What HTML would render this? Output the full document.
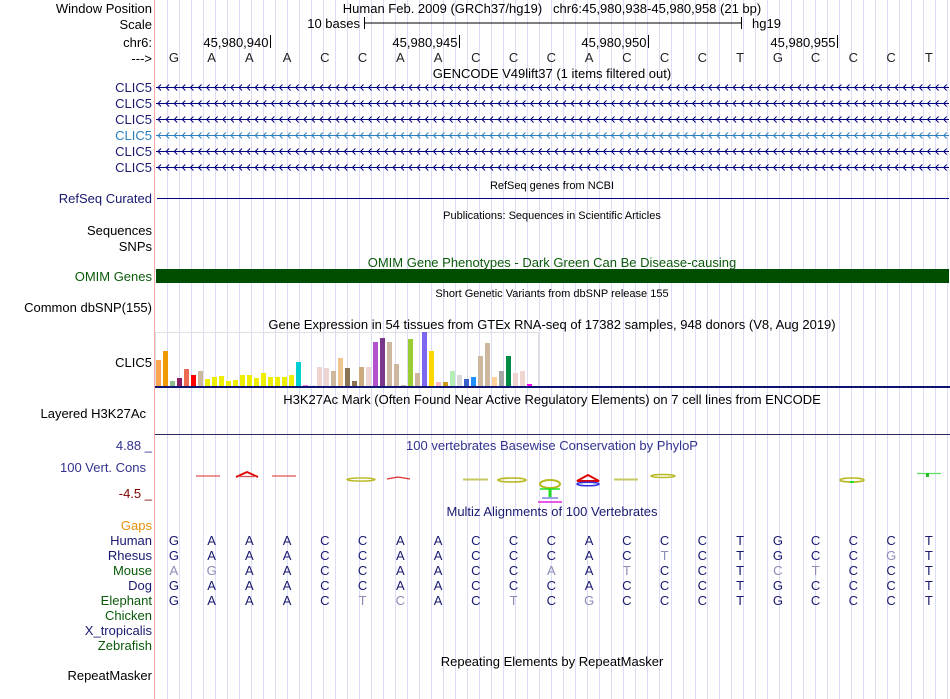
<!DOCTYPE html>
<html><head><meta charset="utf-8"><style>
html,body{margin:0;padding:0;background:#fff;}
svg{display:block;font-family:"Liberation Sans",sans-serif;}
</style></head><body>
<svg id="pg" width="950" height="699" viewBox="0 0 950 699" xmlns="http://www.w3.org/2000/svg">
<g id="grid"></g>
<line x1="154.5" y1="0" x2="154.5" y2="699" stroke="#f4a8a8" stroke-width="1"/>
<g font-size="13" fill="#000" text-anchor="end">
<text x="152" y="13">Window Position</text>
<text x="152" y="29">Scale</text>
<text x="152" y="47">chr6:</text>
<text x="152" y="63">---&gt;</text>
<g fill="#191970"><text x="152" y="92">CLIC5</text>
<text x="152" y="108">CLIC5</text>
<text x="152" y="124">CLIC5</text>
<text x="152" y="140" fill="#2b7fbf">CLIC5</text>
<text x="152" y="156">CLIC5</text>
<text x="152" y="172">CLIC5</text>
<text x="152" y="203">RefSeq Curated</text></g>
<text x="152" y="235">Sequences</text>
<text x="152" y="251">SNPs</text>
<text x="152" y="281" fill="#0a5a0a">OMIM Genes</text>
<text x="152" y="312">Common dbSNP(155)</text>
<text x="152" y="367">CLIC5</text>
<text x="146" y="418">Layered H3K27Ac</text>
<text x="152" y="450" fill="#33338f">4.88 _</text>
<text x="146" y="472" fill="#33338f">100 Vert. Cons</text>
<text x="152" y="498" fill="#800000">-4.5 _</text>
<text x="152" y="530" fill="#e8900a">Gaps</text>
<text x="152" y="545" fill="#191970">Human</text>
<text x="152" y="560" fill="#191970">Rhesus</text>
<text x="152" y="575" fill="#0a5a0a">Mouse</text>
<text x="152" y="590" fill="#191970">Dog</text>
<text x="152" y="605" fill="#0a5a0a">Elephant</text>
<text x="152" y="620" fill="#0a5a0a">Chicken</text>
<text x="152" y="635" fill="#191970">X_tropicalis</text>
<text x="152" y="650" fill="#0a5a0a">Zebrafish</text>
<text x="152" y="680">RepeatMasker</text>
</g>
<g font-size="13" text-anchor="middle">
<text x="552" y="13">Human Feb. 2009 (GRCh37/hg19)&#160;&#160;&#160;chr6:45,980,938-45,980,958 (21 bp)</text>
<text x="552" y="78">GENCODE V49lift37 (1 items filtered out)</text>
<text x="552" y="189" font-size="11">RefSeq genes from NCBI</text>
<text x="552" y="219" font-size="11">Publications: Sequences in Scientific Articles</text>
<text x="552" y="267" fill="#0a5a0a">OMIM Gene Phenotypes - Dark Green Can Be Disease-causing</text>
<text x="552" y="297" font-size="11">Short Genetic Variants from dbSNP release 155</text>
<text x="552" y="329">Gene Expression in 54 tissues from GTEx RNA-seq of 17382 samples, 948 donors (V8, Aug 2019)</text>
<text x="552" y="404">H3K27Ac Mark (Often Found Near Active Regulatory Elements) on 7 cell lines from ENCODE</text>
<text x="552" y="450" fill="#33338f">100 vertebrates Basewise Conservation by PhyloP</text>
<text x="552" y="516" fill="#191970">Multiz Alignments of 100 Vertebrates</text>
<text x="552" y="666">Repeating Elements by RepeatMasker</text>
</g>
<g>
<text x="360" y="28" font-size="13" text-anchor="end">10 bases</text>
<line x1="364.5" y1="17" x2="364.5" y2="29" stroke="#000"/>
<line x1="741.5" y1="17" x2="741.5" y2="29" stroke="#000"/>
<line x1="364" y1="23" x2="741" y2="23" stroke="#000"/>
<text x="752" y="28" font-size="13">hg19</text>
</g>
<g id="ruler" font-size="13" text-anchor="end"></g>
<g id="bases" font-size="13" text-anchor="middle" fill="#222"></g>
<g id="genes"></g>
<line x1="157" y1="198.5" x2="949" y2="198.5" stroke="#000080"/>
<rect x="156" y="269" width="793" height="14" fill="#004d00"/>
<rect x="155.5" y="332.5" width="383" height="54" fill="none" stroke="#e0e0e0"/>
<g id="gtex"></g>
<rect x="155" y="386" width="795" height="2" fill="#0f1470"/>
<line x1="155" y1="434.5" x2="950" y2="434.5" stroke="#282864"/>
<g id="cons">
<g stroke-width="1.2">
<line x1="196" y1="476" x2="220" y2="476" stroke="#e05050"/>
<path d="M236 477 L247 472 L258 477" fill="none" stroke="#e00000" stroke-width="1.8"/>
<line x1="238" y1="476.5" x2="256" y2="476.5" stroke="#e05050"/>
<line x1="272" y1="476" x2="296" y2="476" stroke="#e05050"/>
<ellipse cx="361" cy="479.5" rx="14" ry="1.6" fill="none" stroke="#b8b820" stroke-width="1.4"/>
<path d="M387 479 L398 477 L410 479" fill="none" stroke="#e03030"/>
<line x1="463" y1="479.5" x2="488" y2="479.5" stroke="#c8c860" stroke-width="2"/>
<ellipse cx="512" cy="480" rx="14" ry="2" fill="none" stroke="#b8b820" stroke-width="1.6"/>
<ellipse cx="550" cy="484" rx="10" ry="4" fill="none" stroke="#b8b820" stroke-width="2"/>
<line x1="540" y1="489" x2="560" y2="489" stroke="#20e020" stroke-width="1.5"/>
<line x1="550" y1="489" x2="550" y2="497" stroke="#20e020" stroke-width="3"/>
<line x1="542" y1="498" x2="558" y2="498" stroke="#8080e0" stroke-width="1.5"/>
<line x1="538" y1="502" x2="562" y2="502" stroke="#e020e0" stroke-width="1.5"/>
<path d="M577 481 L588 475 L599 481 Z" fill="none" stroke="#e00000" stroke-width="2"/>
<ellipse cx="588" cy="484" rx="11" ry="1.8" fill="none" stroke="#3030e0" stroke-width="1.5"/>
<line x1="614" y1="479.5" x2="638" y2="479.5" stroke="#c8c860" stroke-width="2"/>
<ellipse cx="663" cy="476" rx="12" ry="1.5" fill="none" stroke="#b8b820" stroke-width="1.4"/>
<ellipse cx="852" cy="480" rx="12" ry="2" fill="none" stroke="#b8b820" stroke-width="1.6"/>
<line x1="850" y1="482" x2="854" y2="482" stroke="#20e020" stroke-width="2"/>
<line x1="917" y1="473.5" x2="941" y2="473.5" stroke="#60e060"/>
<rect x="926" y="473" width="3" height="4" fill="#20c020"/>
</g>
</g>
<g id="maf" font-size="13" text-anchor="middle"></g>
</svg>
<script>
var refSeq="GAAACCAACCCACCCTGCCCT";
var rhesus="GAAACCAACCCACTCTGCCGT";
var mouse ="AGAACCAACCAATCCTCTCCT";
var dog   ="GAAACCAACCCACCCTGCCCT";
var eleph ="GAAACTCACTCGCCCTGCCCT";
var rulerLabels=["45,980,940","45,980,945","45,980,950","45,980,955"];
var rulerIdx=[3,8,13,18];
var gtexValues=[26,35,5,8,17,11,15,7,9,10,5,6,11,11,8,13,9,9,9,11,24,1,1,19,18,15,28,18,5,19,19,44,48,44,22,1,47,13,54,35,4,4,15,11,7,9,30,43,9,15,30,13,15,2];
var gtexColors=["#FFA54F","#EE9A00","#8FBC8F","#8B1C62","#EE6A50","#FF0000","#CDB79E","#EEEE00","#EEEE00","#EEEE00","#EEEE00","#EEEE00","#EEEE00","#EEEE00","#EEEE00","#EEEE00","#EEEE00","#EEEE00","#EEEE00","#EEEE00","#00CED1","#EE82EE","#F0E0F0","#EED5D2","#EED5D2","#CDB79E","#EEC591","#8B7355","#8B7355","#CDAA7D","#EED5D2","#B452CD","#7A378B","#CDB79E","#CDB79E","#CDB79E","#9ACD32","#CDB79E","#7B68EE","#FFD700","#FFB6C1","#CD9B1D","#B4EEB4","#D9D9D9","#3A5FCD","#1E90FF","#CDB79E","#CDB79E","#FFD39B","#A6A6A6","#008B45","#EED5D2","#EED5D2","#FF00FF"];
var NS="http://www.w3.org/2000/svg";
function mk(tag,parent,attrs){var e=document.createElementNS(NS,tag);for(var k in attrs)e.setAttribute(k,attrs[k]);parent.appendChild(e);return e;}
var grid=document.getElementById('grid');
for(var gx=167.5;gx<950;gx+=12){var gl=mk('line',grid,{x1:gx,y1:0,x2:gx,y2:699,stroke:'#dcdcf6','stroke-width':1});

}
var x0=155,bw=37.75;
function bx(i){return x0+bw*(i+0.5);}
var bases=document.getElementById('bases');
for(var i=0;i<refSeq.length;i++){var t=mk('text',bases,{x:bx(i),y:62});t.textContent=refSeq[i];

}
var ruler=document.getElementById('ruler');
for(var r=0;r<rulerLabels.length;r++){var tx=Math.round(x0+bw*rulerIdx[r]+2)+0.5;
var rt=mk('text',ruler,{x:tx-2,y:47});rt.textContent=rulerLabels[r];


var rl=mk('line',ruler,{x1:tx,y1:35,x2:tx,y2:48,stroke:'#000'});

}
var genes=document.getElementById('genes');
var geneY=[87,103,119,135,151,167];
for(var g=0;g<geneY.length;g++){var col=g==3?'#2b7fbf':'#000080';var y=geneY[g]+0.5;
var gg=mk('g',genes,{});


mk('line',gg,{x1:156,y1:y,x2:949,y2:y,stroke:col});
var d='';for(var ax=158;ax<948;ax+=8.1){d+='M'+(ax+3)+' '+(y-3)+'L'+ax+' '+y+'L'+(ax+3)+' '+(y+3);}
mk('path',gg,{d:d,fill:'none',stroke:col,'stroke-width':1});}
var gtex=document.getElementById('gtex');
var gBase=386,gScale=1,gx0=156,gStep=7;
for(var b=0;b<gtexValues.length;b++){var h=gtexValues[b]*gScale;
var bar=mk('rect',gtex,{x:gx0+b*gStep,y:gBase-h,width:5,height:h,fill:gtexColors[b]});

}
var maf=document.getElementById('maf');
var rows=[[refSeq,545],[rhesus,560],[mouse,575],[dog,590],[eleph,605]];
for(var s=0;s<rows.length;s++){var seq=rows[s][0];
for(var k=0;k<seq.length;k++){var same=seq[k]==refSeq[k];
var mt=mk('text',maf,{x:bx(k),y:rows[s][1],fill:same?'#191970':'#8c8cb8'});mt.textContent=seq[k];

}}
</script>
</body></html>
